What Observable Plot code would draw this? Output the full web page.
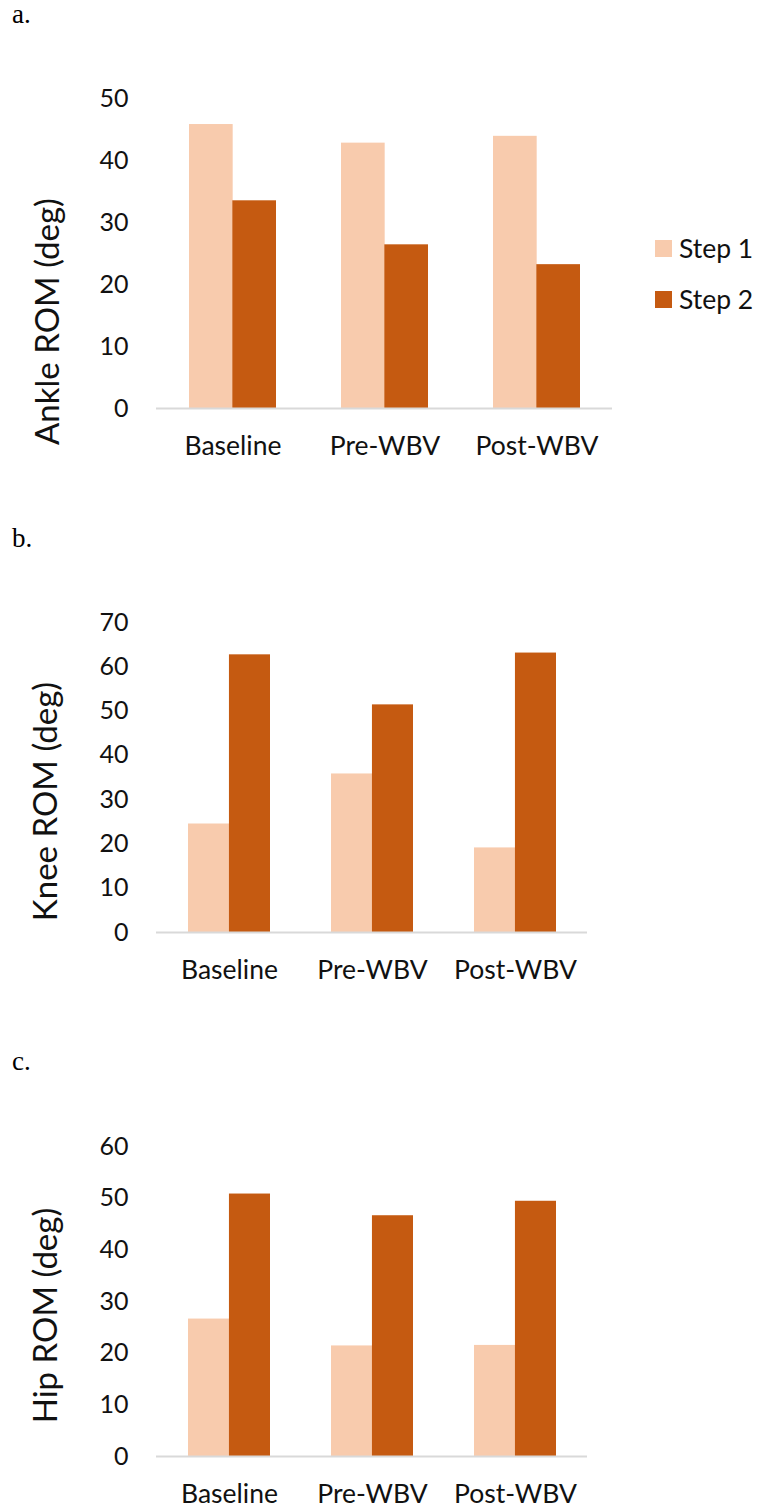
<!DOCTYPE html>
<html>
<head>
<meta charset="utf-8">
<script src="https://cdn.jsdelivr.net/npm/d3@7"></script>
<script src="https://cdn.jsdelivr.net/npm/@observablehq/plot@0.6"></script>
<style>
  html, body { margin: 0; padding: 0; background: #fff; }
  #root { position: relative; width: 757px; height: 1508px; overflow: hidden; background: #fff; }
  .panel-letter { position: absolute; left: 12px; font-family: "Liberation Serif", "Times New Roman", serif; font-size: 27px; line-height: 27px; color: #000; }
  .chart { position: absolute; left: 0; }
  .legend-box { position: absolute; left: 655px; top: 232px; width: 100px; }
  .lg-swatch { padding-bottom: 19px !important; }
  .lg-swatch > svg { margin-right: 7px !important; }
  .lg-swatch-label { overflow: visible !important; text-overflow: clip !important; }
</style>
</head>
<body>
<div id="root"></div>
<script>
// ---- data ----
const categories = ["Baseline", "Pre-WBV", "Post-WBV"];
const series = ["Step 1", "Step 2"];
const colors = ["#F8CBAD", "#C55A11"];

const ankleStep1 = [45.8, 42.8, 43.9];
const ankleStep2 = [33.5, 26.4, 23.2];
const kneeStep1 = [24.5, 35.8, 19.1];
const kneeStep2 = [62.7, 51.4, 63.1];
const hipStep1 = [26.6, 21.4, 21.5];
const hipStep2 = [50.8, 46.6, 49.4];

const panelLetters = ["a.", "b.", "c."];
const yLabels = ["Ankle ROM (deg)", "Knee ROM (deg)", "Hip ROM (deg)"];
const yMaxes = [50, 70, 60];

// ---- drawing ----
const root = document.getElementById("root");
const W = 757;
const FONT = "Lato, 'Open Sans', sans-serif";

function makeRows(s1, s2) {
  const rows = [];
  categories.forEach((c, i) => {
    rows.push({category: c, step: series[0], value: s1[i]});
    rows.push({category: c, step: series[1], value: s2[i]});
  });
  return rows;
}

function panel(cfg) {
  const {s1, s2, yMax, yLabel, top, height, marginTop, marginBottom, marginLeft, marginRight, labelDx, labelDy} = cfg;
  const rows = makeRows(s1, s2);
  const pInner = 0.43;
  const step = (W - marginLeft - marginRight) / categories.length;
  const bw = step * (1 - pInner);
  const plot = Plot.plot({
    width: W,
    height,
    marginTop, marginBottom, marginLeft, marginRight,
    style: {fontFamily: FONT, fontSize: "25px", color: "#111", background: "transparent", overflow: "visible"},
    x: {domain: categories, paddingInner: pInner, paddingOuter: pInner / 2, align: 0.5},
    y: {domain: [0, yMax], nice: false},
    color: {domain: series, range: colors},
    marks: [
      Plot.barY(rows.filter(d => d.step === series[0]), {x: "category", y: "value", fill: "step", insetRight: bw / 2}),
      Plot.barY(rows.filter(d => d.step === series[1]), {x: "category", y: "value", fill: "step", insetLeft: bw / 2}),
      Plot.ruleY([0], {stroke: "#D9D9D9", strokeWidth: 2}),
      Plot.axisY({ticks: d3.range(0, yMax + 1, 10), tickSize: 0, tickPadding: 28, label: null, fontSize: 25}),
      Plot.axisX({tickSize: 0, tickPadding: 28, label: null, fontSize: 26.5}),
      Plot.text([yLabel], {text: d => d, frameAnchor: "left", textAnchor: "middle", rotate: -90, dx: labelDx, dy: labelDy, fontSize: 33})
    ]
  });
  plot.classList.add("chart");
  plot.style.top = top + "px";
  root.appendChild(plot);
}

function letter(txt, top) {
  const d = document.createElement("div");
  d.className = "panel-letter";
  d.style.top = top + "px";
  d.textContent = txt;
  root.appendChild(d);
}

letter(panelLetters[0], 1);
letter(panelLetters[1], 525);
letter(panelLetters[2], 1048);

panel({s1: ankleStep1, s2: ankleStep2, yMax: yMaxes[0], yLabel: yLabels[0],
  top: 40, height: 440, marginTop: 58, marginBottom: 72, marginLeft: 156, marginRight: 145, labelDx: -108, labelDy: 68});
panel({s1: kneeStep1, s2: kneeStep2, yMax: yMaxes[1], yLabel: yLabels[1],
  top: 580, height: 420, marginTop: 42, marginBottom: 68, marginLeft: 156, marginRight: 170, labelDx: -110, labelDy: 24});
panel({s1: hipStep1, s2: hipStep2, yMax: yMaxes[2], yLabel: yLabels[2],
  top: 1100, height: 408, marginTop: 46, marginBottom: 52, marginLeft: 156, marginRight: 170, labelDx: -110, labelDy: 14});

const legend = Plot.legend({
  color: {domain: series, range: colors},
  legend: "swatches",
  columns: 1,
  swatchSize: 17,
  className: "lg",
  style: {fontFamily: FONT, fontSize: "26.5px", lineHeight: "32px", color: "#111", margin: "0"}
});
const lb = document.createElement("div");
lb.className = "legend-box";
lb.appendChild(legend);
root.appendChild(lb);
</script>
</body>
</html>
